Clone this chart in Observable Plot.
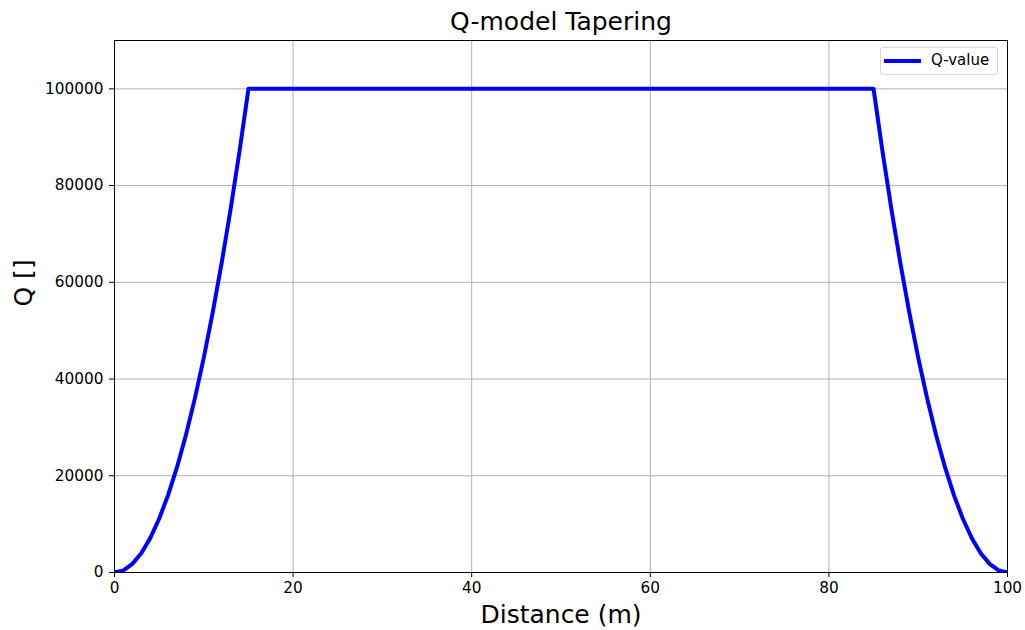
<!DOCTYPE html>
<html>
<head>
<meta charset="utf-8">
<script src="https://cdn.jsdelivr.net/npm/d3@7"></script>
<script src="https://cdn.jsdelivr.net/npm/@observablehq/plot@0.6"></script>
<style>
  html, body { margin: 0; padding: 0; background: #fff; }
  #chart { position: relative; width: 1025px; height: 630px; font-family: "DejaVu Sans", sans-serif; }
  #chart svg { display: block; }
  .legend {
    position: absolute; left: 880px; top: 47px; width: 118px; height: 28px;
    box-sizing: border-box; border: 1px solid #d6d6d6; border-radius: 3px; background: rgba(255,255,255,0.8);
    font-family: "DejaVu Sans", sans-serif; font-size: 15px; color: #000; line-height: 1;
  }
  .legend .swatch { position: absolute; left: 3px; top: 11px; width: 37px; height: 4px; background: #0000ff; }
  .legend .label { position: absolute; left: 50px; top: 5px; }
</style>
</head>
<body>
<div id="chart"></div>
<script>
// Taper profile: distance along the model (m) and Q at each node
const distance = [0, 1, 2, 3, 4, 5, 6, 7, 8, 9, 10, 11, 12, 13, 14, 15,
                  85, 86, 87, 88, 89, 90, 91, 92, 93, 94, 95, 96, 97, 98, 99, 100];
const qValue = [0, 444, 1778, 4000, 7111, 11111, 16000, 21778, 28444, 36000, 44444, 53778, 64000, 75111, 87111, 100000,
                100000, 87111, 75111, 64000, 53778, 44444, 36000, 28444, 21778, 16000, 11111, 7111, 4000, 1778, 444, 0];

const xTicks = [0, 20, 40, 60, 80, 100];
const yTicks = [0, 20000, 40000, 60000, 80000, 100000];

const titleText = "Q-model Tapering";
const xLabel = "Distance (m)";
const yLabel = "Q []";
const seriesName = "Q-value";

const rows = distance.map((d, i) => ({distance: d, q: qValue[i]}));

const plot = Plot.plot({
  width: 1025,
  height: 630,
  marginLeft: 114,
  marginRight: 18,
  marginTop: 40,
  marginBottom: 58,
  style: {fontFamily: "DejaVu Sans, sans-serif", fontSize: "15px", color: "#000", background: "#fff"},
  x: {domain: [0, 100], ticks: xTicks, label: null},
  y: {domain: [0, 110000], ticks: yTicks, label: null},
  marks: [
    Plot.gridX(xTicks, {stroke: "#b0b0b0", strokeOpacity: 1, strokeWidth: 1}),
    Plot.gridY(yTicks, {stroke: "#b0b0b0", strokeOpacity: 1, strokeWidth: 1}),
    Plot.axisX(xTicks, {tickSize: 5, tickPadding: 5, fontSize: 15.3, tickFormat: d => String(d)}),
    Plot.axisY(yTicks, {tickSize: 5, tickPadding: 6, fontSize: 15.3, tickFormat: d => String(d)}),
    Plot.line(rows, {x: "distance", y: "q", stroke: "#0000ff", strokeWidth: 4, strokeLinejoin: "round", clip: true}),
    Plot.frame({stroke: "#000", strokeWidth: 1}),
    Plot.text([titleText], {frameAnchor: "top", lineAnchor: "middle", dy: -19, fontSize: 25, fill: "#000"}),
    Plot.text([xLabel], {frameAnchor: "bottom", lineAnchor: "middle", dy: 42, fontSize: 25, fill: "#000"}),
    Plot.text([yLabel], {frameAnchor: "left", lineAnchor: "middle", dx: -91, rotate: -90, fontSize: 25, fill: "#000"})
  ]
});

const chart = document.getElementById("chart");
chart.appendChild(plot);

const legend = document.createElement("div");
legend.className = "legend";
legend.innerHTML = `<div class="swatch"></div><div class="label">${seriesName}</div>`;
chart.appendChild(legend);
</script>
</body>
</html>
